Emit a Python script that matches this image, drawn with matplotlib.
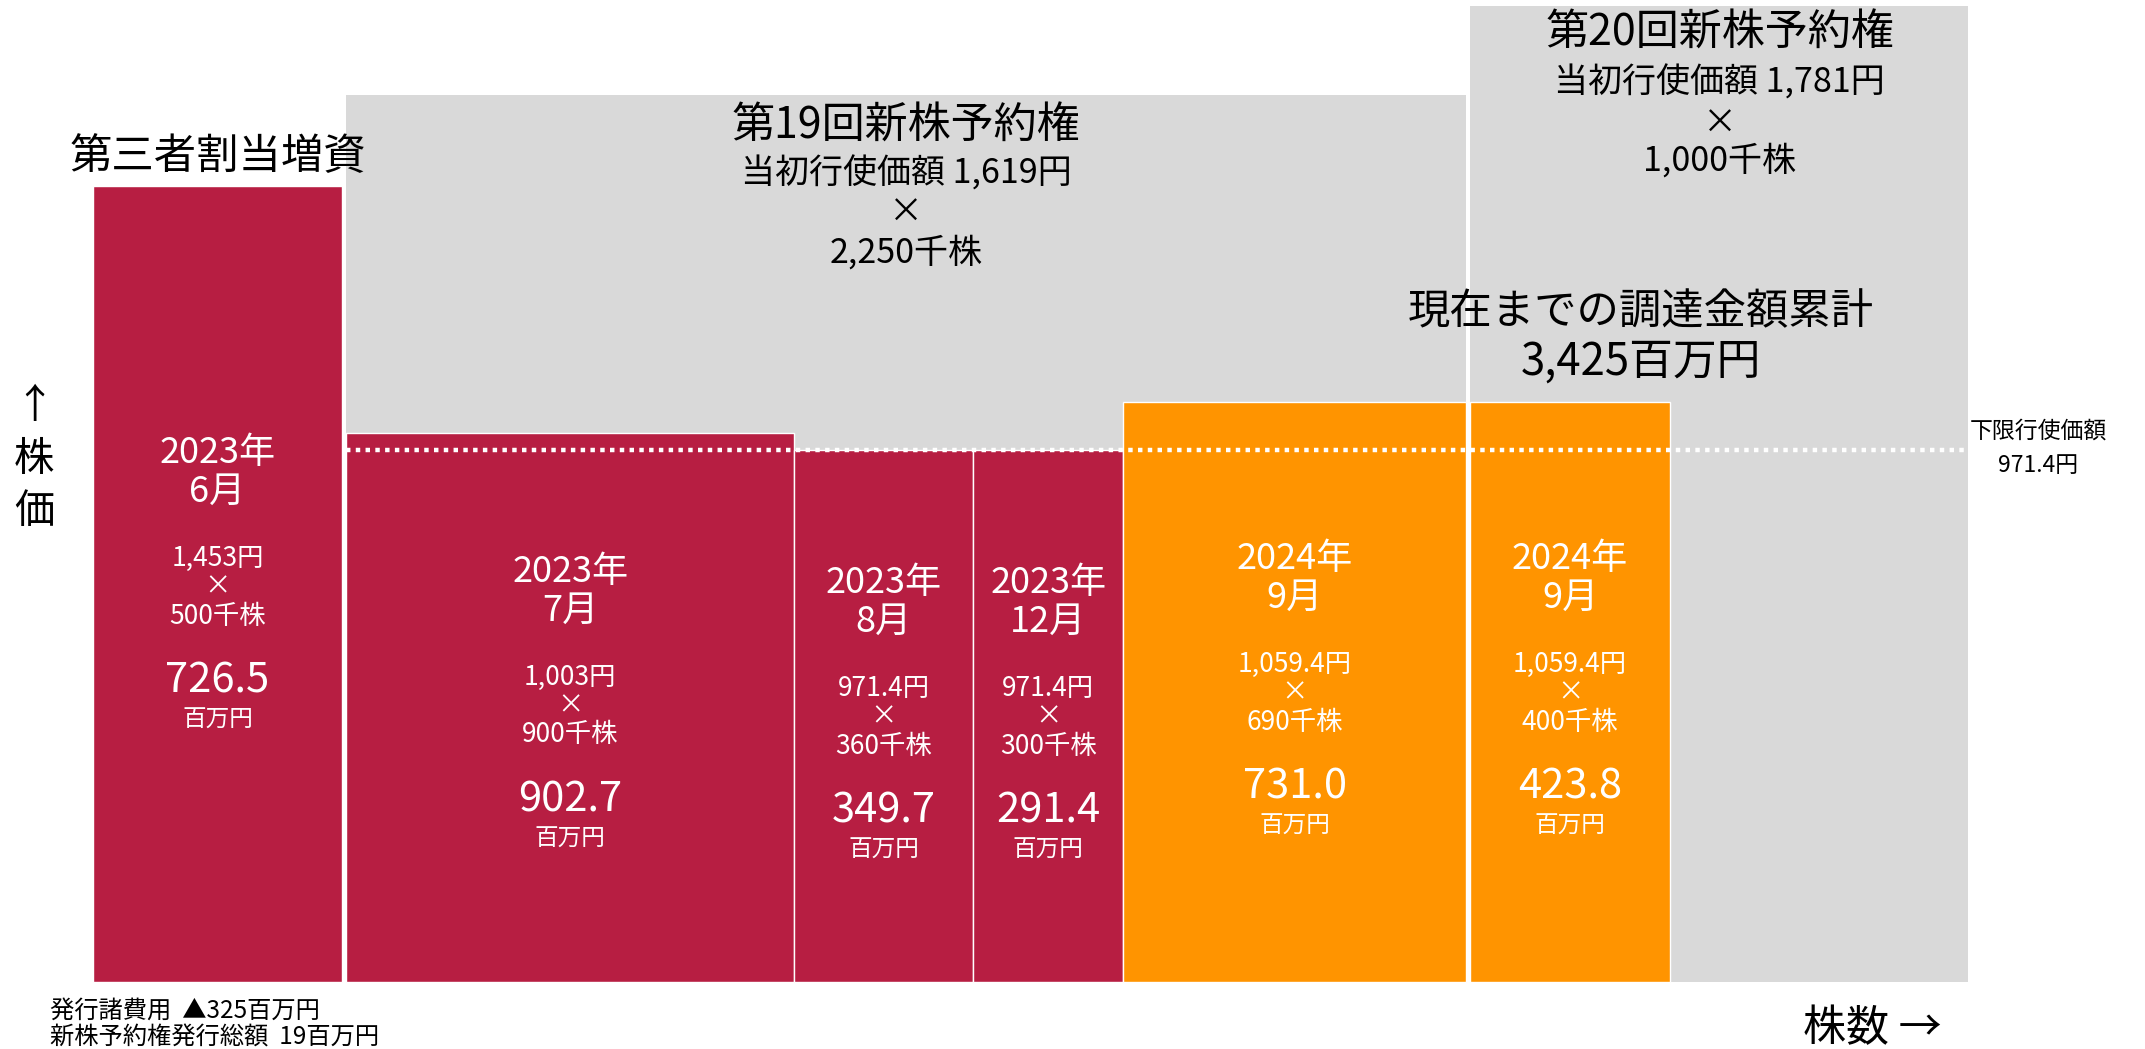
import matplotlib
matplotlib.use("Agg")
import matplotlib.pyplot as plt
from matplotlib.transforms import blended_transform_factory

plt.rcParams['font.family'] = ['Noto Sans CJK JP', 'DejaVu Sans']

# ---------------- data ----------------
group_names = ["第三者割当増資", "第19回新株予約権", "第20回新株予約権"]
group_shares = [500, 2250, 1000]           # 千株
group_init_price = [None, 1619, 1781]       # 円
group_init_price_lbl = [None, "当初行使価額 1,619円", "当初行使価額 1,781円"]
group_shares_lbl = [None, "2,250千株", "1,000千株"]

bar_group = [0, 1, 1, 1, 1, 2]
bar_year = ["2023年", "2023年", "2023年", "2023年", "2024年", "2024年"]
bar_month = ["6月", "7月", "8月", "12月", "9月", "9月"]
bar_price = [1453, 1003, 971.4, 971.4, 1059.4, 1059.4]
bar_price_lbl = ["1,453円", "1,003円", "971.4円", "971.4円", "1,059.4円", "1,059.4円"]
bar_shares = [500, 900, 360, 300, 690, 400]
bar_amount = [726.5, 902.7, 349.7, 291.4, 731.0, 423.8]   # 百万円

floor_price = 971.4
total_raised = "3,425百万円"
notes = ["発行諸費用  ▲325百万円", "新株予約権発行総額  19百万円"]

# ---------------- style ----------------
CRIMSON = "#B71E42"
ORANGE = "#FF9400"
GRAY = "#D9D9D9"
bar_colors = [CRIMSON, CRIMSON, CRIMSON, CRIMSON, ORANGE, ORANGE]

W, H = 2145, 1049
fig = plt.figure(figsize=(W / 100, H / 100), dpi=100)
ax = fig.add_axes([0, 0, 1, 1])
ax.axis('off')

xpx, x0px = 0.498, 93       # px per 千株, left px
ypx, y0px = 0.5478, 67      # px per 円, bottom px
ax.set_xlim(-x0px / xpx, (W - x0px) / xpx)
ax.set_ylim(-y0px / ypx, (H - y0px) / ypx)

gap = 8
group_start = []
s = 0
for g in group_shares:
    group_start.append(s)
    s += g + gap

# gray backgrounds for the warrant programs
for gi in range(len(group_shares)):
    if group_init_price[gi] is not None:
        ax.bar(group_start[gi], group_init_price[gi], width=group_shares[gi],
               align='edge', color=GRAY, linewidth=0, zorder=1)

# bars
bar_left = []
cursor = {gi: group_start[gi] for gi in range(len(group_shares))}
for i in range(len(bar_shares)):
    gi = bar_group[i]
    bar_left.append(cursor[gi])
    cursor[gi] += bar_shares[i]
ax.bar(bar_left, bar_price, width=bar_shares, align='edge', color=bar_colors,
       edgecolor='white', linewidth=1.0, zorder=2)

# floor price dotted line
ax.plot([group_start[1], group_start[2] + group_shares[2]], [floor_price, floor_price],
        color='white', linewidth=3.2, dashes=(1, 1.2), zorder=3,
        dash_capstyle='butt')

def fy(py):
    return 1 - py / H

tr = blended_transform_factory(ax.transData, fig.transFigure)

# bar labels
label_top = [453, 572, 583, 583, 559, 559]
for i in range(len(bar_shares)):
    cx = bar_left[i] + bar_shares[i] / 2
    t0 = label_top[i]
    lines = [
        (bar_year[i], 0, 26),
        (bar_month[i], 39, 26),
        (bar_price_lbl[i], 105, 19),
        ("×", 134, 19),
        (f"{bar_shares[i]}千株", 163, 19),
        (f"{bar_amount[i]:.1f}", 228, 30),
        ("百万円", 267, 17),
    ]
    for txt, off, fs in lines:
        ax.text(cx, fy(t0 + off), txt, transform=tr, ha='center', va='center',
                color='white', fontsize=fs, zorder=4)

# group titles
c0 = group_start[0] + group_shares[0] / 2
ax.text(c0, fy(157), group_names[0], transform=tr, ha='center', va='center',
        fontsize=30.5, color='black', zorder=4)

title_y = {1: [127, 174, 212, 253], 2: [34, 83, 123, 161]}
for gi in (1, 2):
    cx = group_start[gi] + group_shares[gi] / 2
    ys = title_y[gi]
    ax.text(cx, fy(ys[0]), group_names[gi], transform=tr, ha='center', va='center',
            fontsize=31, color='black', zorder=4)
    ax.text(cx, fy(ys[1]), group_init_price_lbl[gi], transform=tr, ha='center',
            va='center', fontsize=24.5, color='black', zorder=4)
    ax.text(cx, fy(ys[2]), "×", transform=tr, ha='center', va='center',
            fontsize=24.5, color='black', zorder=4)
    ax.text(cx, fy(ys[3]), group_shares_lbl[gi], transform=tr, ha='center',
            va='center', fontsize=24.5, color='black', zorder=4)

# total raised
ax.text(1641 / W, fy(312), "現在までの調達金額累計", transform=fig.transFigure,
        ha='center', va='center', fontsize=30.5, color='black', zorder=4)
ax.text(1641 / W, fy(362), total_raised, transform=fig.transFigure,
        ha='center', va='center', fontsize=31.5, color='black', zorder=4)

# floor price label
ax.text(2038 / W, fy(431), "下限行使価額", transform=fig.transFigure,
        ha='center', va='center', fontsize=16.5, color='black')
ax.text(2038 / W, fy(466), f"{floor_price}円", transform=fig.transFigure,
        ha='center', va='center', fontsize=16.5, color='black')

# axis captions
ax.text(34 / W, fy(406), "↑", transform=fig.transFigure, ha='center', va='center',
        fontsize=29, color='black')
ax.text(34 / W, fy(459), "株", transform=fig.transFigure, ha='center', va='center',
        fontsize=29, color='black')
ax.text(34 / W, fy(511), "価", transform=fig.transFigure, ha='center', va='center',
        fontsize=29, color='black')
ax.text(1803 / W, fy(1029), "株数 →", transform=fig.transFigure, ha='left', va='center',
        fontsize=31, color='black')

# notes
ax.text(50 / W, fy(1011), notes[0], transform=fig.transFigure, ha='left', va='center',
        fontsize=17.5, color='black')
ax.text(50 / W, fy(1038), notes[1], transform=fig.transFigure, ha='left', va='center',
        fontsize=17.5, color='black')

fig.savefig("out.png", dpi=100)
